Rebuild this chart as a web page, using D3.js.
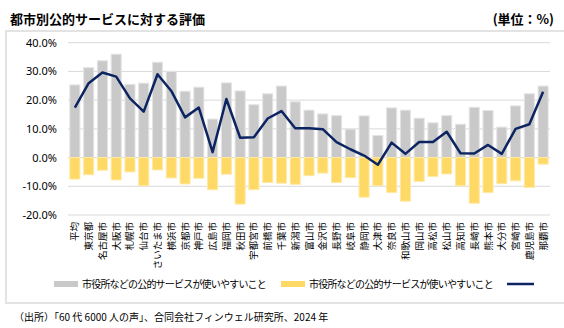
<!DOCTYPE html>
<html>
<head>
<meta charset="utf-8">
<script src="https://cdn.jsdelivr.net/npm/d3@7"></script>
<style>
  body { margin: 0; background: #fff; }
  text { font-family: "Noto Sans CJK JP", "Noto Sans", sans-serif; fill: #000; }
</style>
</head>
<body>
<svg id="chart" width="564" height="328"></svg>
<script>
var cities = ["平均","東京都","名古屋市","大阪市","札幌市","仙台市","さいたま市","横浜市","京都市","神戸市",
  "広島市","福岡市","秋田市","宇都宮市","前橋市","千葉市","新潟市","富山市","金沢市","長野市",
  "岐阜市","静岡市","大津市","奈良市","和歌山市","岡山市","高松市","松山市","高知市","長崎市",
  "熊本市","大分市","宮崎市","鹿児島市","那覇市"];

// 使いやすい (gray)
var easy = [25.3,31.3,33.7,36.0,25.5,25.9,33.2,30.0,23.1,24.5,
  13.4,26.0,23.2,18.4,22.2,24.9,19.4,16.5,15.2,14.6,
  9.9,14.5,7.7,17.3,16.5,13.7,12.1,14.6,11.6,17.5,
  16.4,10.6,18.0,22.2,24.9];

// 使いにくい (yellow, negative)
var hard = [-7.5,-6.0,-4.4,-7.8,-5.0,-9.8,-4.3,-7.1,-9.2,-7.2,
  -11.2,-5.8,-16.2,-11.2,-8.7,-8.9,-9.3,-6.3,-5.4,-8.7,
  -7.0,-13.8,-9.8,-12.2,-15.2,-8.3,-6.6,-5.7,-9.8,-15.9,
  -12.2,-9.1,-8.1,-10.4,-2.3];

// 差 (line)
var net = [17.4,25.9,29.6,28.2,20.6,16.0,29.0,23.2,14.0,17.4,
  1.9,20.4,6.9,7.1,13.6,16.2,10.2,10.2,9.9,5.4,
  2.9,0.7,-2.5,5.2,1.3,5.4,5.4,9.0,1.5,1.4,
  4.4,1.3,10.0,11.6,22.9];

var yTicks = [-20,-10,0,10,20,30,40];
var legendLabels = ["市役所などの公的サービスが使いやすいこと","市役所などの公的サービスが使いやすいこと",""];

var svg = d3.select("#chart");

// frame
svg.append("rect")
  .attr("x", 6).attr("y", 31)
  .attr("width", 570).attr("height", 272)
  .attr("fill", "none")
  .attr("stroke", "#e3e3e3")
  .attr("stroke-width", 2);

svg.append("text")
  .attr("x", 10).attr("y", 24)
  .style("font-size", "13px").style("font-weight", "bold")
  .text("都市別公的サービスに対する評価");

svg.append("text")
  .attr("x", 554).attr("y", 24)
  .attr("text-anchor", "end")
  .style("font-size", "13px").style("font-weight", "bold")
  .text("(単位：%)");

var x = d3.scaleBand()
  .domain(cities)
  .range([68, 550])
  .paddingInner(0.27)
  .paddingOuter(0.135);

var y = d3.scaleLinear()
  .domain([-20, 40])
  .range([215, 42.7]);

// grid
svg.append("g").selectAll("line")
  .data(yTicks)
  .enter().append("line")
  .attr("x1", 68).attr("x2", 550)
  .attr("y1", function(d) { return y(d); })
  .attr("y2", function(d) { return y(d); })
  .attr("stroke", "#d9d9d9")
  .attr("stroke-width", 1);

var yAxis = svg.append("g")
  .attr("transform", "translate(60,0)")
  .call(d3.axisLeft(y).tickValues(yTicks).tickSize(0).tickPadding(3)
    .tickFormat(function(d) { return d.toFixed(1) + "%"; }));
yAxis.select(".domain").remove();
yAxis.selectAll("text")
  .style("font-family", "'Noto Sans', sans-serif")
  .style("font-size", "11px")
  .attr("fill", "#000");

svg.append("g").selectAll("rect")
  .data(easy)
  .enter().append("rect")
  .attr("x", function(d, i) { return x(cities[i]); })
  .attr("y", function(d) { return y(d); })
  .attr("width", x.bandwidth())
  .attr("height", function(d) { return y(0) - y(d); })
  .attr("fill", "#c9c9c9")
  .attr("stroke", "#e4e4e4")
  .attr("stroke-width", 1);

svg.append("g").selectAll("rect")
  .data(hard)
  .enter().append("rect")
  .attr("x", function(d, i) { return x(cities[i]); })
  .attr("y", y(0))
  .attr("width", x.bandwidth())
  .attr("height", function(d) { return y(d) - y(0); })
  .attr("fill", "#ffd966")
  .attr("stroke", "#ffe9a6")
  .attr("stroke-width", 1);

var line = d3.line()
  .x(function(d, i) { return x(cities[i]) + x.bandwidth() / 2; })
  .y(function(d) { return y(d); });

svg.append("path")
  .datum(net)
  .attr("d", line)
  .attr("fill", "none")
  .attr("stroke", "#0c2461")
  .attr("stroke-width", 2.5)
  .attr("stroke-linejoin", "round");

// category labels, rotated
svg.append("g").selectAll("text")
  .data(cities)
  .enter().append("text")
  .attr("transform", function(d) {
    return "translate(" + (x(d) + x.bandwidth() / 2 + 3.5) + ",222) rotate(-90)";
  })
  .attr("text-anchor", "end")
  .style("font-size", "9.5px")
  .text(function(d) { return d; });

// legend
var legX = [54, 281, 507];
var legColors = ["#c9c9c9", "#ffd966", "#0c2461"];
var leg = svg.append("g");
legendLabels.forEach(function(t, i) {
  if (i < 2) {
    leg.append("rect")
      .attr("x", legX[i]).attr("y", 281)
      .attr("width", 24).attr("height", 6)
      .attr("fill", legColors[i]);
  } else {
    leg.append("line")
      .attr("x1", legX[i]).attr("x2", legX[i] + 27)
      .attr("y1", 284).attr("y2", 284)
      .attr("stroke", legColors[i]).attr("stroke-width", 2.5);
  }
  leg.append("text")
    .attr("x", legX[i] + 28).attr("y", 288)
    .style("font-size", "10px")
    .style("letter-spacing", "-0.8px")
    .text(t);
});

svg.append("text")
  .attr("x", 14).attr("y", 321)
  .style("font-size", "10px")
  .text("（出所）「60 代 6000 人の声」、合同会社フィンウェル研究所、2024 年");
</script>
</body>
</html>
